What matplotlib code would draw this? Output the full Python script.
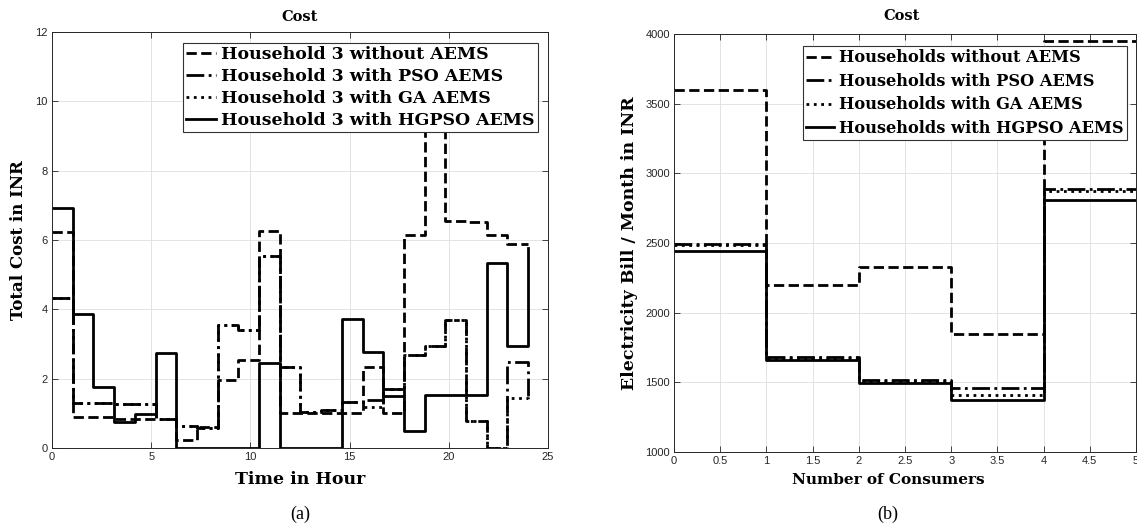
import numpy as np
import matplotlib
matplotlib.use("Agg")
import matplotlib.pyplot as plt

# (a) hourly cost of household 3, 24 samples over 0..24 h
hours = np.linspace(0, 24, 24)
cost_without = [6.23, 0.88, 0.88, 0.85, 0.85, 0.83, 0.24, 0.60, 1.96, 2.54, 6.26, 1.02,
                1.02, 1.00, 1.00, 2.35, 1.00, 6.15, 10.5, 6.54, 6.52, 6.15, 5.88, 5.88]
cost_pso = [4.33, 1.29, 1.29, 1.28, 1.28, 0.85, 0.63, 0.58, 3.55, 3.40, 5.55, 2.35,
            1.05, 1.10, 1.34, 1.38, 1.69, 2.68, 2.95, 3.69, 0.78, 0.0, 2.48, 1.40]
cost_ga = [4.33, 1.29, 1.29, 1.28, 1.28, 0.85, 0.63, 0.58, 3.55, 3.40, 5.55, 2.35,
           1.05, 1.10, 1.34, 1.17, 1.69, 2.68, 2.95, 3.69, 0.78, 0.0, 1.45, 1.40]
cost_hgpso = [6.93, 3.86, 1.77, 0.76, 0.97, 2.73, 0, 0, 0, 0, 2.44, 0,
              0, 0, 3.72, 2.77, 1.50, 0.48, 1.52, 1.52, 1.52, 5.33, 2.93, 5.76]
labels_a = ["Household 3 without AEMS", "Household 3 with PSO AEMS",
            "Household 3 with GA AEMS", "Household 3 with HGPSO AEMS"]

# (b) monthly bill per consumer
consumers = [0, 1, 2, 3, 4, 5]
bill_without = [3600, 2200, 2330, 1850, 3950, 3950]
bill_pso = [2495, 1685, 1517, 1457, 2885, 2885]
bill_ga = [2485, 1678, 1510, 1410, 2875, 2875]
bill_hgpso = [2440, 1660, 1497, 1372, 2810, 2810]
labels_b = ["Households without AEMS", "Households with PSO AEMS",
            "Households with GA AEMS", "Households with HGPSO AEMS"]

styles = ["--", "-.", ":", "-"]
serif = "DejaVu Serif"
tick_color = "#262626"

W, H = 1137, 529
fig = plt.figure(figsize=(W / 100, H / 100), dpi=100)


def px_axes(x0, y0, x1, y1):
    return fig.add_axes([x0 / W, 1 - y1 / H, (x1 - x0) / W, (y1 - y0) / H])


def style_axes(ax):
    ax.grid(True, color="#dedede", linewidth=0.6)
    ax.set_axisbelow(True)
    ax.tick_params(direction="in", top=True, right=True, length=4, width=0.6,
                   labelsize=8, colors=tick_color, pad=3)
    for lab in ax.get_xticklabels() + ax.get_yticklabels():
        lab.set_fontfamily("Liberation Sans")
    for s in ax.spines.values():
        s.set_color(tick_color)
        s.set_linewidth(0.7)


def add_legend(ax, labels, anchor, size, spacing):
    leg = ax.legend(labels, loc="upper left", bbox_to_anchor=anchor, borderaxespad=0,
                    prop={"family": serif, "weight": "bold", "size": size},
                    fancybox=False, framealpha=1, edgecolor="#333333",
                    handlelength=1.7, handletextpad=0.3, borderpad=0.2,
                    labelspacing=spacing)
    leg.get_frame().set_linewidth(0.8)
    leg.set_zorder(10)


# ---- (a) ----
ax1 = px_axes(52, 32, 548, 448)
for y, ls in zip([cost_without, cost_pso, cost_ga, cost_hgpso], styles):
    ax1.step(hours, y, where="post", color="black", linestyle=ls, linewidth=2)
ax1.set_xlim(0, 25)
ax1.set_ylim(0, 12)
ax1.set_xticks(range(0, 26, 5))
ax1.set_yticks(range(0, 13, 2))
style_axes(ax1)
add_legend(ax1, labels_a, (0.264, 0.974), 12.5, 0.28)
ax1.set_title("Cost", family=serif, weight="bold", fontsize=10.5, pad=8)
ax1.set_xlabel("Time in Hour", family=serif, weight="bold", fontsize=12.5, labelpad=6)
ax1.set_ylabel("Total Cost in INR", family=serif, weight="bold", fontsize=12, labelpad=6)

# ---- (b) ----
ax2 = px_axes(674, 34, 1136, 452)
for y, ls in zip([bill_without, bill_pso, bill_ga, bill_hgpso], styles):
    ax2.step(consumers, y, where="post", color="black", linestyle=ls, linewidth=2)
ax2.set_xlim(0, 5)
ax2.set_ylim(1000, 4000)
ax2.set_xticks(np.arange(0, 5.01, 0.5))
ax2.set_xticklabels(["0", "0.5", "1", "1.5", "2", "2.5", "3", "3.5", "4", "4.5", "5"])
ax2.set_yticks(range(1000, 4001, 500))
style_axes(ax2)
add_legend(ax2, labels_b, (0.279, 0.971), 11.7, 0.4)
ax2.set_ylabel("Electricity Bill / Month in INR", family=serif, weight="bold",
               fontsize=12.5, labelpad=5)

fig.text(902 / W, 1 - 16 / H, "Cost", family=serif, weight="bold", fontsize=10.5,
         ha="center", va="center")
fig.text(888 / W, 1 - 480 / H, "Number of Consumers", family=serif, weight="bold",
         fontsize=11, ha="center", va="center")
fig.text(300 / W, 1 - 514 / H, "(a)", family="Liberation Serif", fontsize=13,
         ha="center", va="center")
fig.text(888 / W, 1 - 514 / H, "(b)", family="Liberation Serif", fontsize=13,
         ha="center", va="center")

fig.savefig("out.png", dpi=100)
